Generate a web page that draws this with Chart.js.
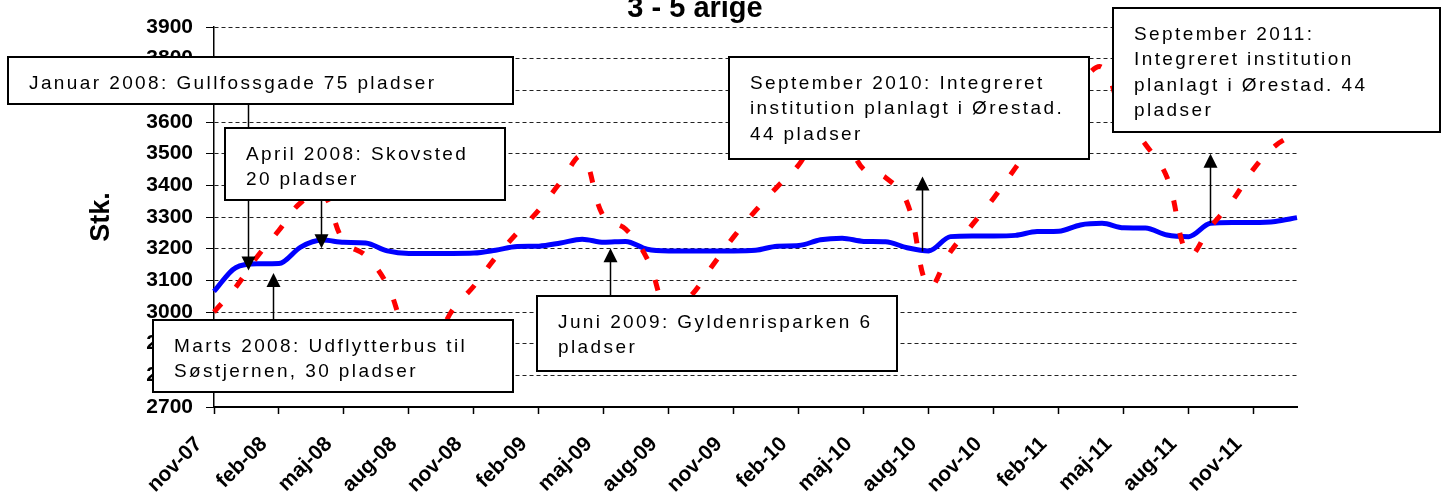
<!DOCTYPE html>
<html><head><meta charset="utf-8">
<script src="https://cdn.jsdelivr.net/npm/chart.js@4.4.1/dist/chart.umd.min.js"></script>
<style>html,body{margin:0;padding:0;background:#fff;}canvas{display:block;}</style>
</head><body>
<canvas id="c" width="1441" height="497"></canvas>
<script>
// ---- data ----
const chartTitle = '3 - 5 arige';
const yTitle = 'Stk.';
const months = ['nov-07','dec-07','jan-08','feb-08','mar-08','apr-08','maj-08','jun-08','jul-08','aug-08','sep-08','okt-08',
  'nov-08','dec-08','jan-09','feb-09','mar-09','apr-09','maj-09','jun-09','jul-09','aug-09','sep-09','okt-09',
  'nov-09','dec-09','jan-10','feb-10','mar-10','apr-10','maj-10','jun-10','jul-10','aug-10','sep-10','okt-10',
  'nov-10','dec-10','jan-11','feb-11','mar-11','apr-11','maj-11','jun-11','jul-11','aug-11','sep-11','okt-11',
  'nov-11','dec-11','jan-12'];
const solidSeries = [3065,3140,3152,3153,3205,3227,3220,3218,3193,3185,3185,3185,
  3186,3195,3207,3208,3218,3230,3220,3223,3198,3193,3193,3193,
  3193,3195,3208,3210,3228,3233,3223,3222,3203,3193,3238,3240,
  3240,3242,3254,3255,3275,3280,3266,3265,3243,3238,3280,3283,
  3283,3286,3298];
const dashedSeries = [3000,3078,3175,3258,3345,3375,3222,3178,3085,2920,2890,3005,
  3082,3172,3250,3322,3410,3490,3300,3262,3168,3000,3050,3145,
  3238,3320,3395,3465,3575,3560,3450,3425,3345,3080,3190,3275,
  3360,3455,3550,3650,3725,3772,3615,3530,3425,3180,3268,3350,
  3452,3525,3565];
const yMin = 2700, yMax = 3900, yStep = 50, yLabelStep = 100;
const xLabelEvery = 3;

// annotation texts and where their arrows point (category index, value)
const noteTexts = [
  ['Januar 2008: Gullfossgade 75 pladser'],
  ['April 2008: Skovsted', '20 pladser'],
  ['Marts 2008: Udflytterbus til', 'Søstjernen, 30 pladser'],
  ['Juni 2009: Gyldenrisparken 6', 'pladser'],
  ['September 2010: Integreret', 'institution planlagt i Ørestad.', '44 pladser'],
  ['September 2011:', 'Integreret institution', 'planlagt i Ørestad. 44', 'pladser']
];
const noteArrowAt = [1.58, 4.94, 2.73, 18.26, 32.69, 45.97];
const noteArrowTip = [3131, 3201, 3123, 3201, 3428, 3500];
const noteArrowFrom = [null, null, null, null, 3191, 3281]; // null = starts at box edge

// layout of the boxes (pixels)
const noteBoxes = [
  [8, 57, 505, 47],
  [225, 128, 280, 72],
  [153, 320, 360, 72],
  [537, 296, 360, 75],
  [729, 57, 360, 102],
  [1113, 8, 327, 124]
];
const FONT = "'Liberation Sans', Arial, Helvetica, sans-serif";
Chart.defaults.font.family = FONT;
Chart.defaults.color = '#000';

const notesPlugin = {
  id: 'notes',
  afterDraw(chart) {
    const ctx = chart.ctx, xs = chart.scales.x, ys = chart.scales.y;
    ctx.save();
    // title
    ctx.font = 'bold 29px ' + FONT;
    ctx.fillStyle = '#000';
    ctx.textAlign = 'center';
    ctx.textBaseline = 'alphabetic';
    ctx.fillText(chartTitle, 695, 17);
    // arrows
    ctx.strokeStyle = '#000';
    ctx.fillStyle = '#000';
    ctx.lineWidth = 1.5;
    noteTexts.forEach((t, i) => {
      const [bx, by, bw, bh] = noteBoxes[i];
      const x = Math.round(xs.getPixelForValue(noteArrowAt[i])) + 0.5;
      const tipY = ys.getPixelForValue(noteArrowTip[i]);
      let startY;
      if (noteArrowFrom[i] !== null) startY = ys.getPixelForValue(noteArrowFrom[i]);
      else startY = tipY > by ? by + bh : by;
      const dir = tipY > startY ? 1 : -1;
      ctx.beginPath();
      ctx.moveTo(x, startY);
      ctx.lineTo(x, tipY - dir * 12);
      ctx.stroke();
      ctx.beginPath();
      ctx.moveTo(x, tipY);
      ctx.lineTo(x - 7, tipY - dir * 14);
      ctx.lineTo(x + 7, tipY - dir * 14);
      ctx.closePath();
      ctx.fill();
    });
    // boxes
    ctx.font = '19px ' + FONT;
    try { ctx.letterSpacing = '2.4px'; } catch (e) {}
    ctx.textAlign = 'left';
    noteTexts.forEach((t, i) => {
      const [bx, by, bw, bh] = noteBoxes[i];
      ctx.fillStyle = '#fff';
      ctx.fillRect(bx, by, bw, bh);
      ctx.lineWidth = 2;
      ctx.strokeStyle = '#000';
      ctx.strokeRect(bx, by, bw, bh);
      ctx.fillStyle = '#000';
      t.forEach((line, k) => {
        ctx.fillText(line, bx + 21, by + 31.5 + k * 25.5);
      });
    });
    ctx.restore();
  }
};

new Chart(document.getElementById('c'), {
  type: 'line',
  data: {
    labels: months,
    datasets: [
      {data: dashedSeries, borderColor: '#ff0000', borderWidth: 5, borderDash: [11, 22],
       borderCapStyle: 'butt', pointRadius: 0, tension: 0.4, fill: false, order: 0},
      {data: solidSeries, borderColor: '#0000ff', borderWidth: 5, cubicInterpolationMode: 'monotone',
       pointRadius: 0, fill: false, order: 1}
    ]
  },
  options: {
    responsive: false, animation: false, devicePixelRatio: 1,
    layout: {padding: {top: 27, right: 144, left: 0, bottom: 0}},
    plugins: {legend: {display: false}, tooltip: {enabled: false}, title: {display: false}},
    scales: {
      x: {
        type: 'category', offset: false,
        grid: {drawOnChartArea: false, drawTicks: true, tickLength: 7, tickWidth: 1.5,
               tickColor: c => (c.index % xLabelEvery === 0 ? '#000' : 'rgba(0,0,0,0)')},
        border: {display: true, color: '#000', width: 2},
        ticks: {autoSkip: false, maxRotation: 45, minRotation: 45, padding: 18, labelOffset: -15,
                font: {size: 21, weight: 'bold'}, color: '#000',
                callback: (v, i) => (i % xLabelEvery === 0 ? months[i] : '')},
        afterFit: s => { s.height = 90; }
      },
      y: {
        min: yMin, max: yMax,
        ticks: {stepSize: yStep, padding: 13, font: {size: 21, weight: 'bold'}, color: '#000',
                callback: v => (v % yLabelStep === 0 ? String(v) : '')},
        grid: {color: '#222', lineWidth: 1, drawTicks: true, tickLength: 8,
               tickColor: c => (c.tick && c.tick.value % yLabelStep === 0 ? '#000' : 'rgba(0,0,0,0)')},
        border: {display: true, color: '#000', width: 1.5, dash: [4, 3]},
        title: {display: true, text: yTitle, font: {size: 27, weight: 'bold'}, color: '#000',
                padding: {top: 85, bottom: 0}},
        afterFit: s => { s.width = 214; }
      }
    }
  },
  plugins: [notesPlugin]
});
</script>
</body></html>
